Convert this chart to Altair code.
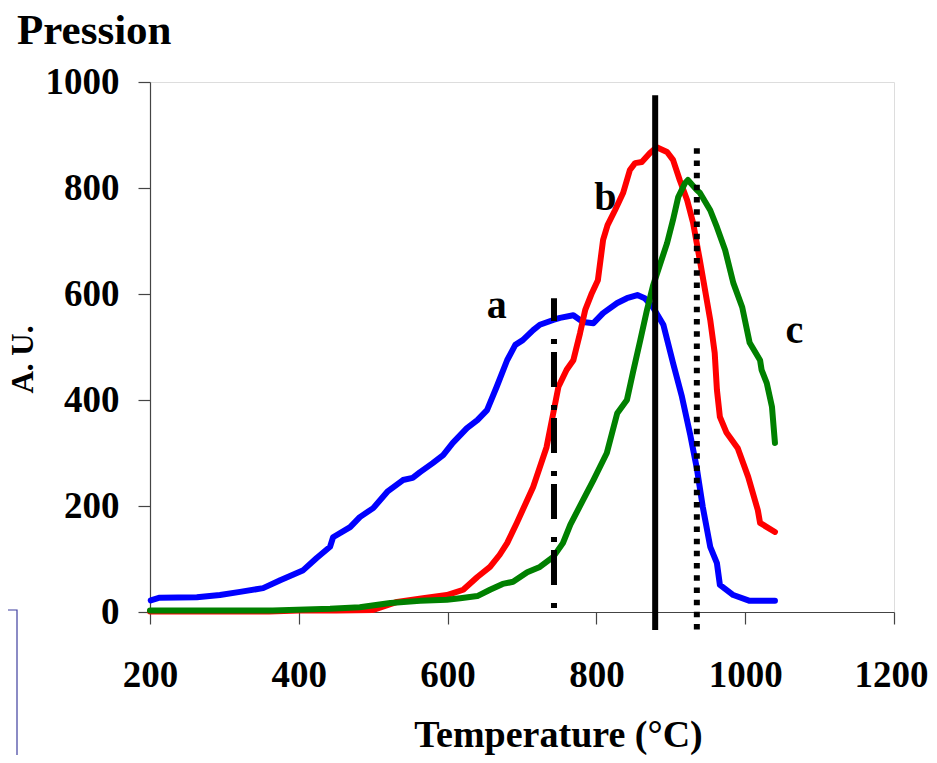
import altair as alt
import pandas as pd

# ---- data ----
a_temp = [201, 213, 263, 294, 321, 352, 375, 406, 424, 442, 446, 469, 482, 500, 519, 540, 553, 563,
          580, 594, 607, 626, 640, 653, 666, 680, 691, 701, 715, 724, 742, 751, 769, 782, 796, 809,
          828, 841, 855, 865, 876, 890, 903, 915, 926, 935, 943, 953, 962, 966, 984, 1006, 1040]
a_val = [22, 27, 28, 32, 38, 45, 60, 79, 102, 123, 141, 160, 179, 196, 227, 249, 253, 264,
         281, 296, 319, 347, 362, 381, 425, 475, 504, 513, 532, 542, 551, 555, 560, 547, 545, 564,
         583, 592, 598, 592, 575, 542, 470, 406, 335, 271, 198, 123, 92, 51, 32, 21, 21]

b_temp = [200, 360, 400, 450, 500, 532, 567, 599, 621, 640, 657, 670, 680, 693, 715, 733, 742, 749,
          760, 769, 778, 785, 794, 802, 809, 815, 825, 836, 845, 852, 861, 872, 881, 895, 903, 912,
          922, 930, 939, 953, 959, 962, 966, 975, 990, 1004, 1017, 1020, 1040]
b_val = [1, 1, 3, 3, 4, 19, 26, 32, 42, 66, 85, 108, 130, 168, 236, 311, 375, 425,
         457, 475, 526, 570, 602, 626, 702, 730, 758, 791, 834, 847, 849, 866, 877, 868, 853, 815,
         777, 734, 664, 551, 489, 419, 368, 338, 309, 255, 192, 168, 151]

c_temp = [200, 365, 442, 482, 523, 563, 599, 617, 640, 657, 674, 688, 707, 724, 742, 755, 765, 782,
          796, 814, 828, 841, 849, 859, 868, 876, 886, 895, 903, 910, 919, 923, 935, 939, 953, 962,
          973, 984, 996, 1006, 1020, 1022, 1029, 1036, 1040]
c_val = [3, 3, 6, 9, 17, 21, 23, 26, 30, 42, 53, 57, 75, 85, 104, 130, 165, 211,
         249, 300, 375, 400, 451, 513, 570, 615, 658, 696, 740, 783, 809, 815, 796, 791, 758, 726,
         683, 621, 575, 508, 475, 457, 432, 387, 319]

label_text = ["a", "b", "c"]
label_temp = [666, 812, 1066]
label_val = [555, 758, 508]

marker_temp = [743, 879, 935]
marker_start = [7.5, 975, 875]
marker_end = [592, -34, -34]

x_ticks = [200, 400, 600, 800, 1000, 1200]
y_ticks = [0, 200, 400, 600, 800, 1000]

top_title = ["Pression"]

FONT = "Liberation Serif"
AXIS_COL = "#444444"

xs = alt.Scale(domain=[200, 1200], nice=False, zero=False)
ys = alt.Scale(domain=[0, 1000], nice=False, zero=False)

x_axis = alt.Axis(
    values=x_ticks, format="d", title="Temperature (°C)", grid=False, tickSize=12,
    labelFont=FONT, labelFontSize=37, labelFontWeight="bold", labelColor="black",
    labelPadding=62, labelBaseline="alphabetic", labelFlush=False, labelOverlap=False,
    labelOffset={"condition": {"test": "datum.value == 1200", "value": -3}, "value": 0},
    domainColor=AXIS_COL, tickColor=AXIS_COL, domainWidth=1.2, tickWidth=1.2,
    titleFont=FONT, titleFontSize=38, titleFontWeight="bold", titleColor="black",
    titleX=408, titleY=134, titleAlign="center", titleBaseline="alphabetic",
)
y_axis = alt.Axis(
    values=y_ticks, format="d", title="A. U.", grid=False, tickSize=12,
    labelFont=FONT, labelFontSize=37, labelFontWeight="bold", labelColor="black",
    labelPadding=19, labelFlush=False, labelOverlap=False,
    domainColor=AXIS_COL, tickColor=AXIS_COL, domainWidth=1.2, tickWidth=1.2,
    titleFont=FONT, titleFontSize=31, titleFontWeight="bold", titleColor="black",
    titleAngle=270, titleX=-118, titleY=277, titleAlign="center", titleBaseline="alphabetic",
)


def enc_x():
    return alt.X("t:Q", scale=xs, axis=x_axis)


def enc_y():
    return alt.Y("v:Q", scale=ys, axis=y_axis)


def curve(temps, vals, color):
    df = pd.DataFrame({"t": temps, "v": vals})
    return alt.Chart(df).mark_line(
        color=color, strokeWidth=6, strokeJoin="round", strokeCap="round"
    ).encode(x=enc_x(), y=enc_y())


def marker(i, dash):
    df = pd.DataFrame({"t": [marker_temp[i]], "v": [marker_start[i]], "v2": [marker_end[i]]})
    kw = dict(color="black", strokeWidth=6, strokeCap="butt")
    if dash:
        kw["strokeDash"] = dash
    return alt.Chart(df).mark_rule(**kw).encode(x=enc_x(), y=enc_y(), y2="v2:Q")


lab_df = pd.DataFrame({"t": label_temp, "v": label_val, "lab": label_text})
labels = alt.Chart(lab_df).mark_text(
    font=FONT, fontSize=40, fontWeight="bold", color="black",
    align="center", baseline="alphabetic"
).encode(x=enc_x(), y=enc_y(), text="lab:N")

# "Pression" heading above the value axis
heading = alt.Chart(pd.DataFrame({"h": top_title})).mark_text(
    font=FONT, fontSize=43, fontWeight="bold", color="black",
    align="left", baseline="alphabetic"
).encode(x=alt.value(-133), y=alt.value(-38), text="h:N")

box = alt.Chart(pd.DataFrame({"k": [0]})).mark_rect(
    filled=False, stroke="#3f3f9f", strokeWidth=1.2
).encode(x=alt.value(-170), x2=alt.value(-133), y=alt.value(528), y2=alt.value(720))

chart = alt.layer(
    box,
    curve(a_temp, a_val, "#0000FF"),
    curve(b_temp, b_val, "#FF0000"),
    curve(c_temp, c_val, "#008000"),
    marker(0, [5, 18, 35, 8]),
    marker(1, None),
    marker(2, [5.5, 6.7]),
    labels,
    heading,
).properties(
    width=744, height=530,
    autosize=alt.AutoSizeParams(type="none"),
    padding={"left": 142, "top": 74, "right": 35, "bottom": 143},
).configure_view(stroke=None).configure(background="white")

chart.save("out.html", embed_options={"renderer": "svg", "actions": False})
